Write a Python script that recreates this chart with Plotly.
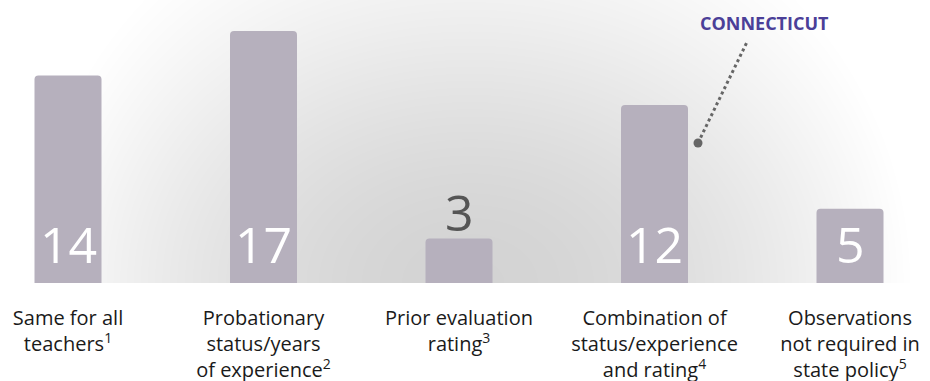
import base64
import struct
import zlib

import numpy as np
import plotly.graph_objects as go

categories = [
    "Same for all<br>teachers<sup>1</sup>",
    "Probationary<br>status/years<br>of experience<sup>2</sup>",
    "Prior evaluation<br>rating<sup>3</sup>",
    "Combination of<br>status/experience<br>and rating<sup>4</sup>",
    "Observations<br>not required in<br>state policy<sup>5</sup>",
]
values = [14, 17, 3, 12, 5]
highlight_index = 3
highlight_label = "CONNECTICUT"

W, H = 930, 381
BASE = 283          # baseline pixel
X0 = 68             # first category center pixel
DX = 195.5          # px per category
DY = 14.83          # px per unit


def px_x(p):
    return (p - X0) / DX


def px_y(p):
    return (BASE - p) / DY


# ---- soft radial background (style only) ----
def gradient_png(w, h):
    xx, yy = np.meshgrid(np.arange(w) + 0.5, np.arange(h) + 0.5)
    cx, cy = 470.0, float(h)
    dxp, dyp = xx - cx, yy - cy
    g = np.exp(-(dxp ** 2 / (2 * 270.0 ** 2) + dyp ** 2 / (2 * 195.0 ** 2)))
    re = np.sqrt((dxp / 440.0) ** 2 + (dyp / 420.0) ** 2)
    taper = np.clip(1 - re ** 6, 0, 1)
    dark = 0.17 * g * taper
    img = np.clip(255 * (1 - dark), 0, 255).astype(np.uint8)
    raw = b"".join(b"\x00" + img[r].tobytes() for r in range(h))

    def chunk(t, d):
        c = struct.pack(">I", len(d)) + t + d
        return c + struct.pack(">I", zlib.crc32(t + d) & 0xFFFFFFFF)

    png = b"\x89PNG\r\n\x1a\n" + chunk(b"IHDR", struct.pack(">IIBBBBB", w, h, 8, 0, 0, 0, 0))
    png += chunk(b"IDAT", zlib.compress(raw, 9)) + chunk(b"IEND", b"")
    return "data:image/png;base64," + base64.b64encode(png).decode()


xs = list(range(len(values)))
BAR = "#b6b0bd"

fig = go.Figure()
fig.add_trace(go.Bar(
    x=xs, y=values, width=67 / DX, marker=dict(color=BAR, line=dict(width=0)),
    hoverinfo="skip", showlegend=False,
))

annotations = []
for i, v in enumerate(values):
    if v * DY > 60:
        annotations.append(dict(x=i, y=0, text=str(v), showarrow=False, yanchor="bottom",
                                yshift=3, font=dict(family="Open Sans", size=50, color="white")))
    else:
        annotations.append(dict(x=i, y=v, text=str(v), showarrow=False, yanchor="bottom",
                                yshift=-9, font=dict(family="Open Sans", size=50, color="#555555")))

# Connecticut callout
hx = highlight_index
dot_x, dot_y = hx + px_x(698) - px_x(654.5), px_y(143)
top_x, top_y = hx + px_x(747) - px_x(654.5), px_y(42)
lab_x, lab_y = hx + px_x(764) - px_x(654.5), px_y(23)
annotations.append(dict(x=lab_x, y=lab_y, text="<b>" + highlight_label + "</b>", showarrow=False,
                        font=dict(family="Open Sans", size=18, color="#4b3f98")))

shapes = [dict(type="line", xref="x", yref="y", x0=dot_x, y0=dot_y, x1=top_x, y1=top_y,
               line=dict(color="#666666", width=3, dash="dot"), layer="above")]

fig.add_trace(go.Scatter(x=[dot_x], y=[dot_y], mode="markers",
                         marker=dict(size=9, color="#666666"), hoverinfo="skip", showlegend=False))

fig.update_layout(
    width=W, height=H,
    margin=dict(l=0, r=0, t=0, b=H - BASE, pad=0, autoexpand=False),
    paper_bgcolor="white", plot_bgcolor="rgba(0,0,0,0)",
    barcornerradius=4,
    shapes=shapes, annotations=annotations,
    images=[dict(source=gradient_png(W, BASE), xref="paper", yref="paper", x=0, y=1,
                 sizex=1, sizey=1, sizing="stretch", xanchor="left", yanchor="top",
                 layer="below")],
    xaxis=dict(range=[px_x(0), px_x(W)], tickmode="array", tickvals=xs, ticktext=categories,
               showgrid=False, zeroline=False, showline=False, ticks="", automargin=False,
               ticklabelstandoff=21,
               tickfont=dict(family="Open Sans", size=20, color="#1a1a1a"), fixedrange=True),
    yaxis=dict(range=[0, BASE / DY], visible=False, fixedrange=True, automargin=False),
    font=dict(family="Open Sans"),
)

fig.write_html("out.html", config={"displayModeBar": False},
               post_script="document.body.style.margin='0';document.body.style.overflow='hidden';")
